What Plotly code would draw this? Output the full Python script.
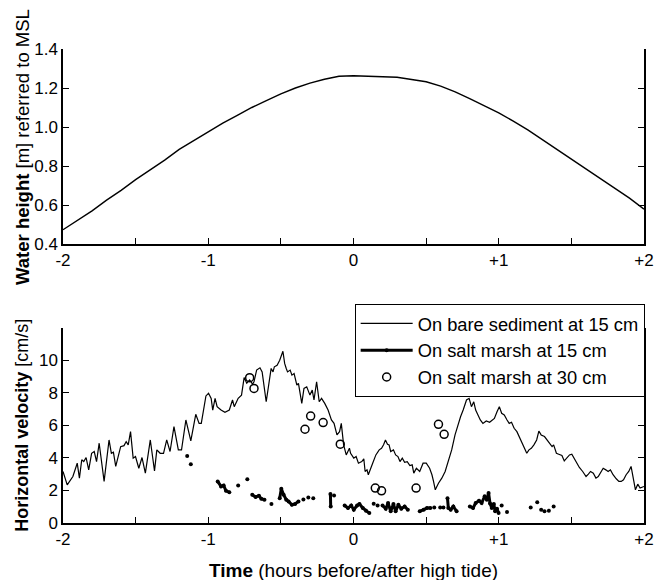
import plotly.graph_objects as go

# ---------------- data ----------------
# Top panel: water height (m, referred to MSL) vs time (hours relative to high tide)
tide_t = [-2.0, -1.9, -1.8, -1.7, -1.6, -1.5, -1.4, -1.3, -1.2, -1.1, -1.0,
          -0.9, -0.8, -0.7, -0.6, -0.5, -0.4, -0.3, -0.2, -0.1, 0.0,
          0.1, 0.2, 0.3, 0.4, 0.5, 0.6, 0.7, 0.8, 0.9, 1.0,
          1.1, 1.2, 1.3, 1.4, 1.5, 1.6, 1.7, 1.8, 1.9, 2.0]
tide_h = [0.473, 0.52, 0.57, 0.625, 0.675, 0.73, 0.78, 0.83, 0.885, 0.93, 0.977,
          1.02, 1.06, 1.10, 1.135, 1.17, 1.20, 1.225, 1.245, 1.26, 1.263,
          1.262, 1.258, 1.255, 1.245, 1.232, 1.21, 1.18, 1.145, 1.11, 1.072,
          1.03, 0.985, 0.935, 0.885, 0.832, 0.785, 0.735, 0.685, 0.635, 0.579]

# Bottom panel: horizontal velocity on bare sediment at 15 cm (cm/s)
bare_t = [-2.000, -1.971, -1.932, -1.902, -1.887, -1.871, -1.857, -1.841, -1.823, -1.803,
          -1.785, -1.769, -1.751, -1.717, -1.683, -1.667, -1.653, -1.637, -1.603, -1.580,
          -1.565, -1.551, -1.535, -1.517, -1.501, -1.478, -1.456, -1.433, -1.399, -1.370,
          -1.354, -1.331, -1.308, -1.286, -1.263, -1.236, -1.206, -1.184, -1.154, -1.120,
          -1.086, -1.063, -1.048, -1.016, -0.998, -0.980, -0.969, -0.953, -0.939, -0.912,
          -0.885, -0.855, -0.833, -0.821, -0.794, -0.771, -0.753, -0.735, -0.715, -0.695,
          -0.685, -0.667, -0.644, -0.629, -0.601, -0.583, -0.567, -0.554, -0.545, -0.526,
          -0.508, -0.486, -0.474, -0.463, -0.454, -0.436, -0.424, -0.409, -0.390, -0.379,
          -0.356, -0.341, -0.322, -0.300, -0.284, -0.272, -0.254, -0.236, -0.220, -0.198,
          -0.175, -0.152, -0.134, -0.114, -0.096, -0.084, -0.068, -0.050, -0.028, -0.020,
          0.002, 0.018, 0.034, 0.057, 0.071, 0.080, 0.093, 0.102, 0.116, 0.132,
          0.154, 0.177, 0.193, 0.207, 0.220, 0.234, 0.245, 0.256, 0.275, 0.290,
          0.306, 0.320, 0.336, 0.352, 0.370, 0.388, 0.404, 0.415, 0.433, 0.456,
          0.479, 0.501, 0.524, 0.540, 0.551, 0.563, 0.585, 0.608, 0.631, 0.653,
          0.676, 0.699, 0.717, 0.737, 0.755, 0.778, 0.796, 0.812, 0.828, 0.841,
          0.857, 0.873, 0.891, 0.914, 0.937, 0.959, 0.970, 0.988, 1.004, 1.020,
          1.038, 1.057, 1.072, 1.088, 1.106, 1.125, 1.140, 1.156, 1.174, 1.193,
          1.208, 1.224, 1.242, 1.261, 1.276, 1.292, 1.315, 1.333, 1.351, 1.367,
          1.378, 1.397, 1.413, 1.435, 1.451, 1.469, 1.487, 1.503, 1.519, 1.537,
          1.555, 1.578, 1.601, 1.617, 1.632, 1.651, 1.669, 1.685, 1.701, 1.719,
          1.737, 1.753, 1.769, 1.787, 1.809, 1.827, 1.843, 1.859, 1.877, 1.895,
          1.911, 1.923, 1.941, 1.957, 1.973, 2.000]
bare_v = [3.17, 2.35, 2.86, 3.68, 2.76, 3.89, 3.78, 4.03, 3.27, 4.29,
          4.40, 3.78, 4.91, 2.56, 5.11, 4.29, 4.36, 3.48, 4.70, 4.76,
          5.01, 4.81, 5.62, 3.99, 4.09, 3.37, 4.03, 3.07, 5.11, 3.21,
          4.50, 4.29, 4.29, 5.11, 4.40, 5.93, 4.50, 4.50, 6.34, 5.05,
          6.69, 6.13, 6.13, 7.82, 7.98, 7.67, 6.95, 7.67, 7.16, 6.95,
          6.81, 6.95, 7.57, 7.16, 7.67, 7.87, 8.95, 8.60, 8.80, 8.55,
          8.69, 9.41, 9.55, 9.30, 7.46, 8.49, 9.51, 9.30, 9.61, 9.71,
          10.02, 10.57, 9.82, 9.51, 9.30, 9.41, 9.10, 9.20, 8.49, 8.59,
          7.36, 8.28, 8.38, 7.87, 8.18, 7.57, 8.69, 7.46, 7.67, 7.36,
          6.95, 6.34, 6.13, 5.42, 5.62, 6.13, 4.81, 4.19, 4.60, 4.29,
          3.99, 4.09, 3.68, 3.78, 3.95, 3.17, 3.27, 2.97, 3.37, 3.68,
          4.19, 4.50, 4.60, 4.81, 5.11, 4.85, 4.81, 4.40, 4.50, 4.19,
          4.09, 3.78, 3.99, 3.74, 3.78, 3.54, 3.58, 3.07, 3.37, 3.17,
          3.68, 3.68, 3.37, 2.97, 2.56, 2.04, 2.45, 2.76, 3.17, 3.78,
          4.50, 5.42, 6.03, 6.54, 6.95, 7.57, 7.67, 7.16, 7.46, 6.95,
          6.65, 6.34, 6.13, 6.28, 6.20, 6.34, 6.44, 6.85, 7.16, 6.75,
          6.65, 6.34, 6.13, 6.20, 5.83, 5.62, 5.32, 5.01, 4.60, 4.29,
          4.50, 4.60, 4.81, 5.11, 5.66, 5.42, 5.32, 5.11, 4.91, 4.70,
          4.81, 4.29, 4.23, 4.15, 3.82, 4.03, 4.19, 4.23, 3.99, 3.68,
          3.42, 3.17, 2.86, 3.01, 3.17, 3.07, 2.76, 2.86, 3.13, 3.37,
          3.27, 3.17, 3.27, 2.97, 2.72, 2.56, 2.56, 2.66, 2.97, 3.17,
          3.48, 2.86, 2.04, 2.39, 2.15, 2.25]

# Salt marsh at 15 cm (None separates the broken segments / isolated points)
marsh15_t = [-1.145, None, -1.120, None,
             -0.935, -0.912, -0.894, -0.878, -0.855, None,
             -0.794, None, -0.731, None,
             -0.697, -0.674, -0.651, -0.635, -0.613, None,
             -0.565, None,
             -0.508, -0.497, -0.481, -0.463, -0.447, -0.424, -0.402, -0.379, None,
             -0.345, None, -0.311, None, -0.277, None,
             -0.159, -0.157, None, -0.134, None,
             -0.061, -0.038, -0.016, 0.002, 0.025, 0.041, 0.064, 0.086, 0.109, None,
             0.139, None, 0.166, None,
             0.200, 0.222, 0.238, 0.256, 0.275, 0.290, 0.309, 0.329, 0.352, 0.374, None,
             0.456, 0.483, 0.506, 0.529, None,
             0.556, None, 0.597, None, 0.619, None,
             0.647, 0.653, 0.669, 0.687, 0.710, None,
             0.801, 0.823, 0.841, 0.864, 0.882, 0.903, 0.918, 0.930, 0.940, 0.952,
             0.966, 0.975, 0.988, 0.999, None,
             1.020, None, 1.057, None, 1.220, None, 1.265, None, 1.292, None,
             1.315, None, 1.345, None, 1.378]
marsh15_v = [4.13, None, 3.62, None,
             2.56, 2.25, 2.31, 1.98, 1.90, None,
             2.31, None, 2.70, None,
             1.74, 1.60, 1.68, 1.49, 1.43, None,
             1.17, None,
             1.53, 2.11, 1.74, 1.43, 1.33, 1.12, 1.17, 1.33, None,
             1.45, None, 1.57, None, 1.53, None,
             1.78, 1.02, None, 1.70, None,
             1.08, 0.92, 1.08, 0.82, 1.08, 1.17, 0.92, 0.76, 0.61, None,
             1.19, None, 1.08, None,
             1.08, 0.88, 1.23, 0.72, 1.17, 0.72, 1.12, 0.88, 1.02, 0.82, None,
             0.72, 0.82, 0.92, 0.92, None,
             0.96, None, 0.96, None, 0.96, None,
             1.53, 0.92, 0.82, 1.02, 0.72, None,
             1.02, 0.92, 1.23, 1.37, 1.23, 1.64, 1.43, 1.85, 1.20, 0.92,
             1.17, 0.72, 0.88, 0.61, None,
             1.08, None, 0.67, None, 0.96, None, 1.27, None, 0.82, None,
             0.72, None, 0.76, None, 1.02]

# Salt marsh at 30 cm
marsh30_t = [-0.715, -0.685, -0.334, -0.295, -0.209, -0.091, 0.150, 0.193, 0.431, 0.585, 0.624]
marsh30_v = [8.94, 8.28, 5.77, 6.58, 6.18, 4.85, 2.15, 1.98, 2.15, 6.07, 5.46]

x_tickvals = [-2, -1.5, -1, -0.5, 0, 0.5, 1, 1.5, 2]
x_ticktext = ["-2", "", "-1", "", "0", "", "+1", "", "+2"]
top_tickvals = [0.4, 0.6, 0.8, 1.0, 1.2, 1.4]
bot_tickvals = [0, 2, 4, 6, 8, 10]

names = ["On bare sediment at 15 cm", "On salt marsh at 15 cm", "On salt marsh at 30 cm"]

# ---------------- figure ----------------
FONT = "Liberation Sans, Arial, Helvetica, sans-serif"
fig = go.Figure()

fig.add_trace(go.Scatter(x=tide_t, y=tide_h, mode="lines", xaxis="x", yaxis="y",
                         line=dict(color="black", width=1.4), showlegend=False))

fig.add_trace(go.Scatter(x=bare_t, y=bare_v, mode="lines", xaxis="x2", yaxis="y2",
                         name=names[0], line=dict(color="black", width=1.2)))
fig.add_trace(go.Scatter(x=marsh15_t, y=marsh15_v, mode="lines+markers", xaxis="x2", yaxis="y2",
                         name=names[1], connectgaps=False,
                         line=dict(color="black", width=3),
                         marker=dict(color="black", size=4)))
fig.add_trace(go.Scatter(x=marsh30_t, y=marsh30_v, mode="markers", xaxis="x2", yaxis="y2",
                         name=names[2],
                         marker=dict(symbol="circle-open", color="black", size=8,
                                     line=dict(color="black", width=1.5))))

xaxis_common = dict(range=[-2, 2], tickvals=x_tickvals, ticktext=x_ticktext,
                    ticks="inside", ticklen=6, tickwidth=1.2, tickcolor="black",
                    showline=True, linecolor="black", linewidth=1.5, mirror=False,
                    showgrid=False, zeroline=False,
                    tickfont=dict(family=FONT, size=17, color="black"))
yaxis_common = dict(ticks="inside", ticklen=6, tickwidth=1.2, tickcolor="black",
                    showline=True, linecolor="black", linewidth=1.5, mirror="ticks",
                    showgrid=False, zeroline=False,
                    tickfont=dict(family=FONT, size=17, color="black"))

fig.update_layout(
    width=666, height=580, autosize=False,
    margin=dict(l=63, r=15, t=49, b=57),
    paper_bgcolor="white", plot_bgcolor="white",
    font=dict(family=FONT, color="black"),
    xaxis=dict(**xaxis_common, anchor="y"),
    yaxis=dict(**yaxis_common, domain=[0.5886, 1.0], range=[0.4, 1.4],
               tickvals=top_tickvals, tickformat=".1f", anchor="x"),
    xaxis2=dict(**xaxis_common, anchor="y2"),
    yaxis2=dict(**yaxis_common, domain=[0.0, 0.4114], range=[0, 12],
                tickvals=bot_tickvals, anchor="x2"),
    legend=dict(x=0.502, y=0.462, xanchor="left", yanchor="top",
                bordercolor="black", borderwidth=1, bgcolor="white",
                font=dict(family=FONT, size=18.3, color="black"),
                tracegroupgap=0, itemwidth=52),
    annotations=[
        dict(text="<b>Water height</b> [m] referred to MSL", textangle=-90,
             xref="paper", yref="paper", x=-0.07, y=0.794,
             xanchor="center", yanchor="middle", showarrow=False,
             font=dict(family=FONT, size=18.5, color="black")),
        dict(text="<b>Horizontal velocity</b> [cm/s]", textangle=-90,
             xref="paper", yref="paper", x=-0.07, y=0.2057,
             xanchor="center", yanchor="middle", showarrow=False,
             font=dict(family=FONT, size=18, color="black")),
        dict(text="<b>Time</b> (hours before/after high tide)",
             xref="paper", yref="paper", x=0.5, y=-0.0992,
             xanchor="center", yanchor="middle", showarrow=False,
             font=dict(family=FONT, size=19, color="black")),
    ],
)

fig.write_html("out.html")
